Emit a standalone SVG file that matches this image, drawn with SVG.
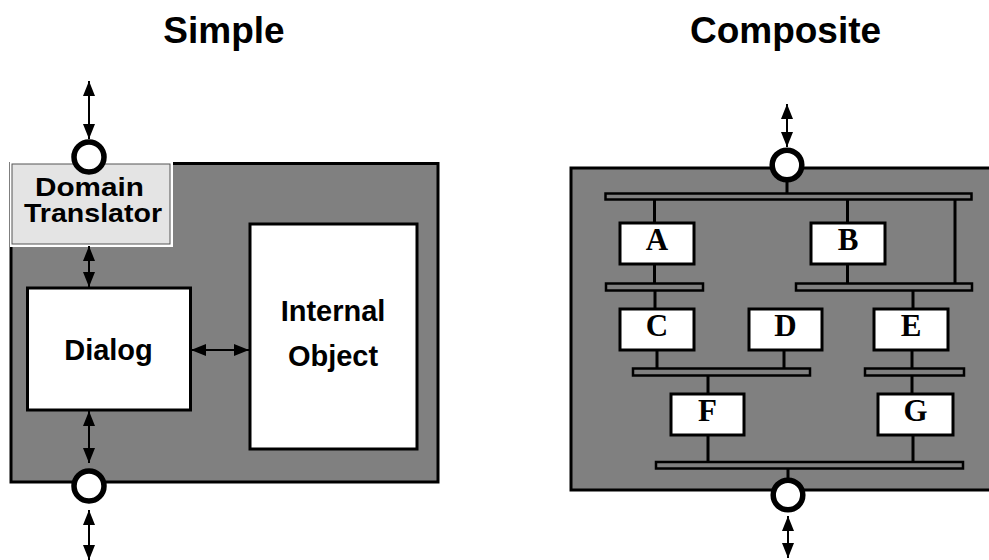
<svg xmlns="http://www.w3.org/2000/svg" width="989" height="560" viewBox="0 0 989 560">
  <style>
    .title { font-family: "Liberation Sans", Arial, sans-serif; font-weight: bold; font-size: 37px; text-anchor: middle; fill: #000; }
    .label { font-family: "Liberation Sans", Arial, sans-serif; font-weight: bold; font-size: 29px; text-anchor: middle; fill: #000; }
    .small { font-size: 25px; }
    .letter { font-family: "Liberation Serif", "Times New Roman", serif; font-weight: bold; font-size: 31px; text-anchor: middle; fill: #000; }
    .panel { fill: #808080; stroke: #000; stroke-width: 3; }
    .box { fill: #fff; stroke: #000; stroke-width: 3; }
    .bus { fill: #808080; stroke: #000; stroke-width: 2.5; }
    .wire { stroke: #000; stroke-width: 3; fill: none; }
    .arrow { stroke: #000; stroke-width: 2; fill: none; marker-start: url(#head); marker-end: url(#head); }
    .port { fill: #fff; stroke: #000; stroke-width: 5.5; }
  </style>
  <defs>
    <marker id="head" markerUnits="userSpaceOnUse" markerWidth="15" markerHeight="12" refX="15" refY="6" orient="auto-start-reverse">
      <path d="M0,0 L15,6 L0,12 z" fill="#000"/>
    </marker>
  </defs>

  <!-- Titles -->
  <text class="title" x="224" y="43">Simple</text>
  <text class="title" x="785.5" y="43">Composite</text>

  <!-- Simple object -->
  <g id="simple-panel">
    <rect class="panel" x="11" y="163.5" width="427" height="318.5"/>
  </g>
  <g id="domain-translator">
    <rect x="10" y="162" width="163" height="85" fill="#fff"/>
    <rect x="12" y="164" width="158" height="80" fill="#e4e4e4" stroke="#555" stroke-width="1"/>
    <text class="label small" x="89.5" y="196" textLength="109" lengthAdjust="spacingAndGlyphs">Domain</text>
    <text class="label small" x="93" y="222" textLength="138" lengthAdjust="spacingAndGlyphs">Translator</text>
  </g>
  <g id="dialog">
    <rect class="box" x="27.5" y="288" width="163" height="122"/>
    <text class="label" x="108.5" y="360">Dialog</text>
  </g>
  <g id="internal-object">
    <rect class="box" x="250" y="224" width="167" height="225"/>
    <text class="label" x="333" y="321">Internal</text>
    <text class="label" x="333" y="366">Object</text>
  </g>
  <g id="simple-port-top">
    <circle class="port" cx="89" cy="157" r="15"/>
  </g>
  <g id="simple-port-bottom">
    <circle class="port" cx="89" cy="486" r="15"/>
  </g>

  <!-- Composite object -->
  <g id="composite-panel">
    <rect class="panel" x="571" y="168" width="430" height="322"/>
  </g>
  <g id="bus-top"><rect class="bus" x="605.5" y="193.5" width="366" height="6"/></g>
  <g id="bus-a"><rect class="bus" x="606" y="283.5" width="97" height="7"/></g>
  <g id="bus-b"><rect class="bus" x="796" y="283.5" width="176" height="7"/></g>
  <g id="bus-cd"><rect class="bus" x="633" y="368.5" width="177" height="7"/></g>
  <g id="bus-e"><rect class="bus" x="865" y="368.5" width="99" height="7"/></g>
  <g id="bus-bottom"><rect class="bus" x="656" y="462" width="307" height="6.5"/></g>

  <!-- Connectors -->
  <g id="connectors">
    <line class="arrow" x1="89" y1="81" x2="89" y2="139"/>
    <line class="arrow" x1="89" y1="246" x2="89" y2="287"/>
    <line class="arrow" x1="191" y1="350" x2="249" y2="350"/>
    <line class="arrow" x1="89" y1="411" x2="89" y2="463"/>
    <line class="arrow" x1="89" y1="510" x2="89" y2="560"/>
    <line class="arrow" x1="787" y1="104" x2="787" y2="147"/>
    <line class="arrow" x1="788" y1="516" x2="788" y2="558"/>

    <line class="wire" x1="787" y1="180" x2="787" y2="193"/>
    <line class="wire" x1="654.5" y1="200" x2="654.5" y2="223"/>
    <line class="wire" x1="654.5" y1="264" x2="654.5" y2="283"/>
    <line class="wire" x1="847.5" y1="200" x2="847.5" y2="223"/>
    <line class="wire" x1="847.5" y1="264" x2="847.5" y2="283"/>
    <line class="wire" x1="955" y1="200" x2="955" y2="283"/>
    <line class="wire" x1="655" y1="291" x2="655" y2="309"/>
    <line class="wire" x1="913" y1="291" x2="913" y2="309"/>
    <line class="wire" x1="657" y1="350" x2="657" y2="368"/>
    <line class="wire" x1="784" y1="350" x2="784" y2="368"/>
    <line class="wire" x1="912" y1="350" x2="912" y2="368"/>
    <line class="wire" x1="708" y1="376" x2="708" y2="394"/>
    <line class="wire" x1="912" y1="376" x2="912" y2="394"/>
    <line class="wire" x1="708" y1="435" x2="708" y2="462"/>
    <line class="wire" x1="913" y1="435" x2="913" y2="462"/>
    <line class="wire" x1="788" y1="468" x2="788" y2="480"/>
  </g>

  <g id="node-a">
    <rect class="box" x="620" y="223" width="74" height="41"/>
    <text class="letter" x="657" y="249.5">A</text>
  </g>
  <g id="node-b">
    <rect class="box" x="811" y="223" width="74" height="41"/>
    <text class="letter" x="848" y="249.5">B</text>
  </g>
  <g id="node-c">
    <rect class="box" x="620" y="309" width="74" height="41"/>
    <text class="letter" x="657" y="335.5">C</text>
  </g>
  <g id="node-d">
    <rect class="box" x="749" y="309" width="73" height="41"/>
    <text class="letter" x="785.5" y="335.5">D</text>
  </g>
  <g id="node-e">
    <rect class="box" x="874" y="309" width="74" height="41"/>
    <text class="letter" x="911" y="335.5">E</text>
  </g>
  <g id="node-f">
    <rect class="box" x="671" y="394" width="73" height="41"/>
    <text class="letter" x="707.5" y="421">F</text>
  </g>
  <g id="node-g">
    <rect class="box" x="878" y="394" width="75" height="41"/>
    <text class="letter" x="915.5" y="421">G</text>
  </g>
  <g id="composite-port-top">
    <circle class="port" cx="787" cy="165" r="14.8"/>
  </g>
  <g id="composite-port-bottom">
    <circle class="port" cx="788" cy="495" r="14.8"/>
  </g>
</svg>
